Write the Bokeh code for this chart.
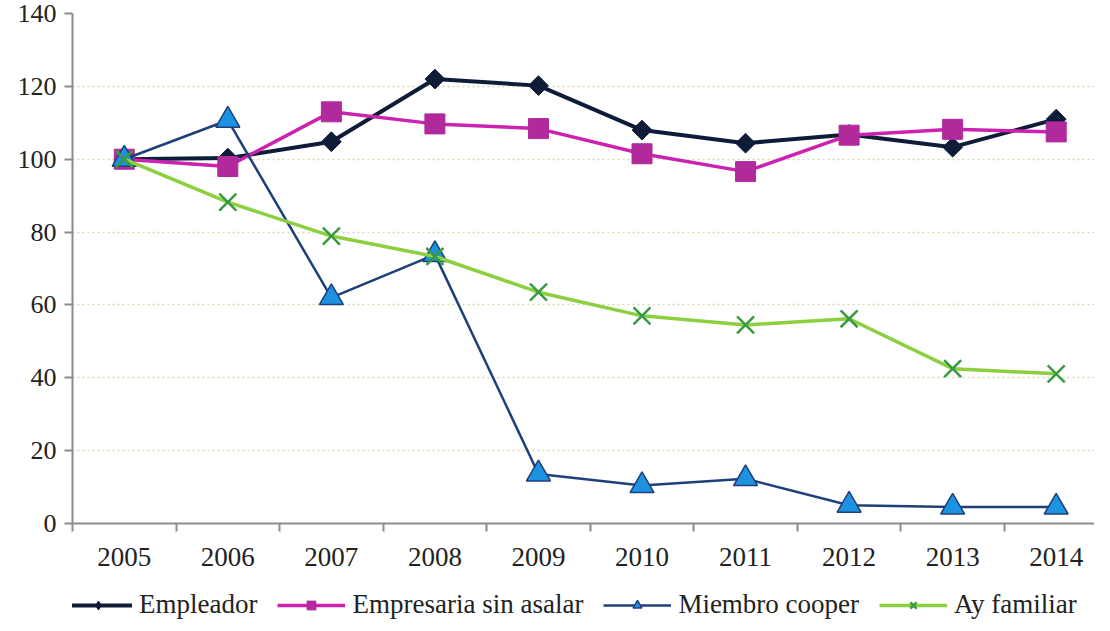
from math import pi
from bokeh.plotting import figure
from bokeh.layouts import column
from bokeh.models import Range1d, FixedTicker, Legend, LegendItem
from bokeh.embed import file_html
from bokeh.resources import INLINE

years = [2005, 2006, 2007, 2008, 2009, 2010, 2011, 2012, 2013, 2014]
empleador = [100, 100.3, 104.8, 122, 120.2, 108, 104.4, 106.8, 103.3, 111]
empresaria = [100, 98, 113, 109.7, 108.4, 101.5, 96.6, 106.6, 108.2, 107.5]
miembro = [100, 110.7, 62, 73.8, 13.6, 10.4, 12.3, 5.0, 4.5, 4.5]
ayfam = [100, 88.2, 78.9, 73.3, 63.5, 57.0, 54.5, 56.2, 42.5, 41.1]
y_ticks = [0, 20, 40, 60, 80, 100, 120, 140]
series_names = ["Empleador", "Empresaria sin asalar", "Miembro cooper", "Ay familiar"]

FONT = "Liberation Serif"

styles = [
    dict(line=dict(line_color="#0e1c38", line_width=4),
         mark=dict(marker="square", angle=pi / 4, size=14, fill_color="#0e1c38",
                   line_color="#0e1c38")),
    dict(line=dict(line_color="#cc22b0", line_width=3.5),
         mark=dict(marker="square", size=20, fill_color="#b02a9c", line_color="#b02a9c")),
    dict(line=dict(line_color="#1f3f78", line_width=2.5),
         mark=dict(marker="triangle", size=24, fill_color="#1c92e0", line_color="#1f3f78",
                   line_width=1.5)),
    dict(line=dict(line_color="#8ccf3f", line_width=3.5),
         mark=dict(marker="x", size=24, line_color="#3a9a44", line_width=2.5)),
]
all_series = [empleador, empresaria, miembro, ayfam]

p = figure(frame_width=1022, frame_height=510, output_backend="svg", toolbar_location=None,
           x_range=Range1d(2004.5, 2014.37), y_range=Range1d(0, 140),
           min_border_top=13, min_border_right=0, min_border_left=72,
           min_border_bottom=60)
p.outline_line_color = None
p.background_fill_color = "white"

# grid
p.xgrid.visible = False
p.ygrid.ticker = FixedTicker(ticks=y_ticks[1:])
p.ygrid.grid_line_color = "#d9d6b4"
p.ygrid.grid_line_dash = "2 3"
p.ygrid.grid_line_width = 1.5

# y axis
p.yaxis.ticker = FixedTicker(ticks=y_ticks)
p.yaxis.axis_line_color = "#8c8c8c"
p.yaxis.axis_line_width = 2
p.yaxis.major_tick_line_color = "#8c8c8c"
p.yaxis.major_tick_line_width = 2
p.yaxis.major_tick_in = 0
p.yaxis.major_tick_out = 8
p.yaxis.minor_tick_line_color = None
p.yaxis.major_label_text_font = FONT
p.yaxis.major_label_text_font_size = "26px"
p.yaxis.major_label_text_color = "#222222"
p.yaxis.major_label_standoff = 8

# x axis: labels at centres, ticks at boundaries (minor ticks)
boundaries = [y - 0.5 for y in years] + [years[-1] + 0.5]
p.xaxis.ticker = FixedTicker(ticks=years, minor_ticks=boundaries)
p.xaxis.axis_line_color = "#8c8c8c"
p.xaxis.axis_line_width = 2
p.xaxis.major_tick_line_color = None
p.xaxis.minor_tick_line_color = "#8c8c8c"
p.xaxis.minor_tick_line_width = 2
p.xaxis.minor_tick_in = 0
p.xaxis.minor_tick_out = 8
p.xaxis.major_label_text_font = FONT
p.xaxis.major_label_text_font_size = "27px"
p.xaxis.major_label_text_color = "#222222"
p.xaxis.major_label_standoff = 16

for vals, st in zip(all_series, styles):
    p.line(years, vals, **st["line"])
    p.scatter(years, vals, **st["mark"])

# legend strip below the chart (same series, outside its visible range)
lg = figure(width=1094, height=40, output_backend="svg", toolbar_location=None,
            x_axis_type=None, y_axis_type=None, x_range=Range1d(0, 1), y_range=Range1d(0, 1),
            min_border=0)
lg.outline_line_color = None
lg.grid.visible = False
items = []
for i, (name, vals, st) in enumerate(zip(series_names, all_series, styles)):
    mark = dict(st["mark"])
    if i == 0:
        mark = dict(marker="diamond", size=20, fill_color="#0e1c38", line_color="#0e1c38")
    r1 = lg.line(years, vals, **st["line"])
    r2 = lg.scatter(years, vals, **mark)
    items.append(LegendItem(label=name, renderers=[r1, r2]))

legend = Legend(items=items, orientation="horizontal", location=(-8, 3))
legend.label_text_font = FONT
legend.label_text_font_size = "27px"
legend.label_text_color = "#222222"
legend.glyph_width = 68
legend.glyph_height = 22
legend.label_standoff = 7
legend.spacing = 20
legend.border_line_color = None
legend.background_fill_alpha = 0
legend.padding = 0
legend.margin = 0
lg.add_layout(legend, "center")

layout = column(p, lg, spacing=0)
open("out.html", "w").write(file_html(layout, INLINE))
